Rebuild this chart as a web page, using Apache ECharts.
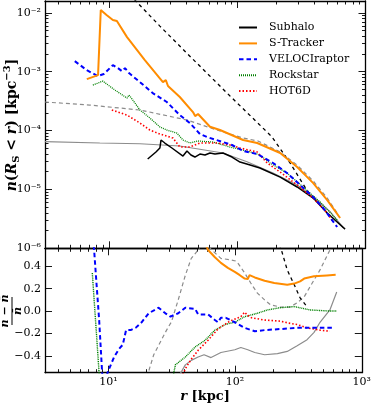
<!DOCTYPE html>
<html><head><meta charset="utf-8">
<script src="https://cdn.jsdelivr.net/npm/echarts@6/dist/echarts.min.js"></script>
<style>html,body{margin:0;padding:0;background:#fff}#c{width:374px;height:406px}</style>
</head><body><div id="c"></div>
<script>
// ---------- data ----------
const subhaloR = [20.0,23.2,24.9,25.4,27.2,30.9,37.7,40.5,43.5,46.7,51.1,56.0,61.2,67.0,77.3,90.9,105,126,150,216,293,391,503,693];
const subhaloN = [3.28e-5,4.32e-5,5.05e-5,6.9e-5,6.14e-5,5.05e-5,3.69e-5,4.49e-5,3.84e-5,3.55e-5,3.99e-5,3.84e-5,4.15e-5,3.99e-5,4.15e-5,3.55e-5,2.92e-5,2.59e-5,2.31e-5,1.62e-5,1.10e-5,7.14e-6,3.97e-6,2.12e-6];

const strackR = [6.70,8.20,8.61,8.75,9.55,10.7,11.5,13.8,19.0,26.3,27.7,28.8,35.6,45.1,46.9,49.4,61.2,73.3,111,143,216,293,391,503,634];
const strackN = [7.48e-4,8.75e-4,1.11e-2,1.13e-2,9.14e-3,7.52e-3,7.23e-3,3.86e-3,1.57e-3,6.65e-4,7.2e-4,5.7e-4,3.71e-4,2.06e-4,1.76e-4,1.91e-4,1.16e-4,1.02e-4,6.9e-5,6.14e-5,4.15e-5,2.40e-5,1.28e-5,6.6e-6,3.27e-6];

const veloR = [5.40,6.70,8.17,9.09,10.7,11.7,12.6,13.3,14.3,17.4,21.9,28.2,35.6,42.7,51.1,58.0,77.3,90.9,111,143,190,244,309,390,468,601];
const veloN = [1.51e-3,1.06e-3,8.41e-4,9.1e-4,1.29e-3,1.15e-3,1.02e-3,1.15e-3,9.46e-4,6.65e-4,4.33e-4,3.05e-4,1.83e-4,1.34e-4,8.73e-5,7.76e-5,6.38e-5,5.68e-5,4.49e-5,3.99e-5,2.81e-5,1.90e-5,1.19e-5,7.43e-6,4.83e-6,2.30e-6];

const rockR = [7.47,8.17,8.93,11.1,13.8,14.3,15.3,17.4,20.8,24.9,28.2,33.8,37.7,42.7,49.4,64.6,87.7,119,150,180,244,326,443,601];
const rockN = [5.92e-4,6.39e-4,6.92e-4,4.87e-4,3.56e-4,4.01e-4,3.30e-4,2.23e-4,1.63e-4,1.15e-4,1.02e-4,9.06e-5,6.9e-5,6.14e-5,6.64e-5,6.38e-5,5.25e-5,4.49e-5,3.84e-5,2.81e-5,1.90e-5,1.10e-5,6.11e-6,3.02e-6];

const hotR = [10.5,13.8,17.4,20.8,24.9,31.5,35.6,42.7,51.1,69.3,87.7,105,143,171,216,293,390,503,560];
const hotN = [2.23e-4,1.83e-4,1.34e-4,1.02e-4,8.73e-5,7.46e-5,5.25e-5,5.25e-5,6.14e-5,6.14e-5,5.68e-5,5.05e-5,4.32e-5,2.81e-5,1.97e-5,1.19e-5,7.14e-6,3.97e-6,2.79e-6];

const fitSolidR = [3.16,8.46,17.4,35.6,77.3,119,190,293,391,530,670];
const fitSolidN = [6.46e-5,6.14e-5,5.97e-5,5.46e-5,4.15e-5,2.95e-5,1.90e-5,1.19e-5,7.52e-6,4.18e-6,2.24e-6];

const fitDashR = [3.16,7.06,17.4,40.5,73.3,111,145,216,293,391,503,601];
const fitDashN = [3.05e-4,2.71e-4,2.23e-4,1.51e-4,9.8e-5,7.46e-5,6.64e-5,4.32e-5,2.59e-5,1.39e-5,7.14e-6,3.97e-6];

const modelR = [14.5,15.9,24.9,40.3,87.7,186,258,348,390];
const modelN = [0.0208,0.0164,5.94e-3,2.07e-3,3.86e-4,7.85e-5,2.81e-5,9.8e-6,7.14e-6];

// residuals (n - nbar)/nbar
const veloResR = [7.47,7.72,8.02,8.46,8.93,9.09,10.1,11.1,12.1,13.0,13.8,15.0,16.4,18.3,20.8,24.9,28.2,30.9,33.8,35.6,40.5,48.4,51.1,61.2,69.3,73.3,77.3,84.5,99.5,119,143,171,309,612];
const veloRes  = [0.72,0.545,0.28,-0.08,-0.55,-0.66,-0.52,-0.41,-0.34,-0.30,-0.17,-0.17,-0.15,-0.10,-0.02,0.03,-0.02,-0.05,-0.03,-0.02,0.03,0.02,-0.03,-0.03,-0.08,-0.10,-0.06,-0.06,-0.10,-0.15,-0.18,-0.17,-0.15,-0.15];

const rockResR = [7.47,7.72,8.02,8.31,8.61,32.6,33.8,40.5,48.4,58.0,69.3,83.2,99.5,119,150,180,227,293,390,560,634];
const rockRes  = [0.34,0.10,-0.17,-0.43,-0.70,-0.57,-0.48,-0.41,-0.32,-0.26,-0.17,-0.12,-0.10,-0.05,-0.02,0.01,0.03,0.04,0.01,0.00,0.00];

const hotResR = [10.5,37.7,41.2,45.1,51.1,61.2,73.3,90.9,111,119,126,135,171,227,272,309,370,468,560];
const hotRes  = [-0.88,-0.59,-0.50,-0.43,-0.35,-0.26,-0.16,-0.09,-0.05,-0.01,-0.04,-0.06,-0.08,-0.09,-0.11,-0.12,-0.15,-0.17,-0.18];

const strackResR = [46.9,61.2,69.3,77.3,87.7,99.5,109,119,126,130,143,171,204,258,293,326,351,420,530,622];
const strackRes  = [0.86,0.545,0.48,0.43,0.385,0.35,0.32,0.29,0.285,0.32,0.30,0.27,0.25,0.235,0.245,0.265,0.29,0.31,0.318,0.323];

const fitSolidResR = [35.6,40.5,45.1,51.1,56.9,64.6,77.3,99.5,111,126,143,171,216,258,309,370,420,468,560,634];
const fitSolidRes  = [-0.59,-0.48,-0.44,-0.41,-0.39,-0.415,-0.37,-0.345,-0.325,-0.345,-0.37,-0.39,-0.38,-0.36,-0.31,-0.255,-0.19,-0.10,0.01,0.17];

const fitDashResR = [19.4,22.8,26.3,28.8,31.5,35.6,40.5,45.1,51.1,56.9,63.4,69.3,77.3,92.5,101,105,119,133,150,171,190,227,272,309,351,390,468,560,601];
const fitDashRes  = [-0.65,-0.39,-0.255,-0.17,-0.095,0.10,0.32,0.47,0.545,0.65,0.56,0.52,0.47,0.456,0.447,0.43,0.34,0.25,0.16,0.10,0.056,0.036,0.036,0.074,0.127,0.216,0.367,0.545,0.634];

const modelResR = [212,232,258,293,326,370];
const modelRes  = [0.65,0.545,0.367,0.234,0.118,0.038];

// ---------- ticks & labels ----------
const xMajorTicks = [10,100,1000];
const xTickLabels = ['10\u00B9','10\u00B2','10\u00B3'];
const xMinorTicks = [4,5,6,7,8,9,20,30,40,50,60,70,80,90,200,300,400,500,600,700,800,900];
const yTopMajorTicks = [1e-6,1e-5,1e-4,1e-3,1e-2];
const yTopTickLabels = ['10\u207B\u2076','10\u207B\u2075','10\u207B\u2074','10\u207B\u00B3','10\u207B\u00B2'];
const yTopMinorTicks = [2e-6,3e-6,4e-6,5e-6,6e-6,7e-6,8e-6,9e-6,2e-5,3e-5,4e-5,5e-5,6e-5,7e-5,8e-5,9e-5,2e-4,3e-4,4e-4,5e-4,6e-4,7e-4,8e-4,9e-4,2e-3,3e-3,4e-3,5e-3,6e-3,7e-3,8e-3,9e-3];
const yBotTicks = [-0.4,-0.2,0,0.2,0.4];
const yBotTickLabels = ['\u22120.4','\u22120.2','0.0','0.2','0.4'];

const XMIN = 3.1623, XMAX = 1000, YMIN = 1e-6, YMAX = 0.01585, RMIN = -0.55, RMAX = 0.56;
const FONT = 'DejaVu Serif';

function lookup(ticks, labels) {
  return v => { let best = 0, bd = Infinity; ticks.forEach((t,i)=>{const d=Math.abs(Math.log(Math.abs(v)+1e-12)-Math.log(Math.abs(t)+1e-12))+Math.abs(v-t); if(d<bd){bd=d;best=i;}}); return labels[best]; };
}
function axisBase(type, grid, pos, min, max, ticks, len, labels, showLine) {
  return {
    type, gridIndex: grid, position: pos, min, max,
    axisLine: {show: showLine, onZero: false, lineStyle: {color: '#000', width: 1.3}},
    axisTick: {show: true, inside: true, length: len, customValues: ticks, lineStyle: {color: '#000', width: 0.9}},
    axisLabel: labels ? {show: true, customValues: ticks, formatter: lookup(ticks, labels), color: '#000', fontFamily: FONT, fontSize: 11, margin: 4} : {show: false},
    splitLine: {show: false}, minorTick: {show: false}, minorSplitLine: {show: false}
  };
}
const zip = (xs, ys) => xs.map((x, i) => [x, ys[i]]);
function line(name, xs, ys, xi, yi, color, width, dash, z) {
  return {type: 'line', name, data: zip(xs, ys), xAxisIndex: xi, yAxisIndex: yi, symbol: 'none', showSymbol: false,
    animation: false, z, silent: true, lineStyle: {color, width, type: dash || 'solid'}, itemStyle: {color}};
}
const GRAY = '#8c8c8c', ORANGE = '#ff8c00';

const chart = echarts.init(document.getElementById('c'), null, {renderer: 'canvas'});
chart.setOption({
  animation: false,
  backgroundColor: '#fff',
  grid: [
    {left: 45, right: 8.5, top: 1, height: 247.3},
    {left: 45, right: 8.5, top: 248.3, height: 124.4}
  ],
  xAxis: [
    axisBase('log', 0, 'bottom', XMIN, XMAX, xMajorTicks, 7, null, true),
    axisBase('log', 0, 'top', XMIN, XMAX, xMajorTicks, 7, null, true),
    axisBase('log', 0, 'bottom', XMIN, XMAX, xMinorTicks, 3.5, null, false),
    axisBase('log', 0, 'top', XMIN, XMAX, xMinorTicks, 3.5, null, false),
    axisBase('log', 1, 'bottom', XMIN, XMAX, xMajorTicks, 7, xTickLabels, true),
    axisBase('log', 1, 'top', XMIN, XMAX, xMajorTicks, 7, null, true),
    axisBase('log', 1, 'bottom', XMIN, XMAX, xMinorTicks, 3.5, null, false),
    axisBase('log', 1, 'top', XMIN, XMAX, xMinorTicks, 3.5, null, false)
  ],
  yAxis: [
    axisBase('log', 0, 'left', YMIN, YMAX, yTopMajorTicks, 7, yTopTickLabels, true),
    axisBase('log', 0, 'right', YMIN, YMAX, yTopMajorTicks, 7, null, true),
    axisBase('log', 0, 'left', YMIN, YMAX, yTopMinorTicks, 3.5, null, false),
    axisBase('log', 0, 'right', YMIN, YMAX, yTopMinorTicks, 3.5, null, false),
    axisBase('value', 1, 'left', RMIN, RMAX, yBotTicks, 7, yBotTickLabels, true),
    axisBase('value', 1, 'right', RMIN, RMAX, yBotTicks, 7, null, true)
  ],
  legend: {
    data: ['Subhalo', 'S-Tracker', 'VELOCIraptor', 'Rockstar', 'HOT6D'],
    orient: 'vertical', left: 238, top: 22, itemWidth: 18, itemHeight: 12, itemGap: 4.9, padding: 0,
    selectedMode: false,
    itemStyle: {opacity: 0, borderWidth: 0},
    textStyle: {fontFamily: FONT, fontSize: 11, color: '#000', padding: [0, 0, 0, 7]}
  },
  series: [
    line('fitSolid', fitSolidR, fitSolidN, 0, 0, GRAY, 1.2, 'solid', 1),
    line('fitDash', fitDashR, fitDashN, 0, 0, GRAY, 1.2, [4, 3], 1),
    line('model', modelR, modelN, 0, 0, '#000', 1.3, [3.5, 3.5], 2),
    line('Subhalo', subhaloR, subhaloN, 0, 0, '#000', 1.5, 'solid', 3),
    line('Rockstar', rockR, rockN, 0, 0, '#008000', 1.3, [1, 1], 4),
    line('HOT6D', hotR, hotN, 0, 0, '#ff0000', 1.6, [1.5, 2], 4),
    line('VELOCIraptor', veloR, veloN, 0, 0, '#0000ff', 2, [4.5, 3], 5),
    line('S-Tracker', strackR, strackN, 0, 0, ORANGE, 2, 'solid', 6),

    line('fitSolid res', fitSolidResR, fitSolidRes, 4, 4, GRAY, 1.2, 'solid', 1),
    line('fitDash res', fitDashResR, fitDashRes, 4, 4, GRAY, 1.2, [4, 3], 1),
    line('model res', modelResR, modelRes, 4, 4, '#000', 1.3, [3.5, 3.5], 2),
    line('Rockstar res', rockResR, rockRes, 4, 4, '#008000', 1.4, [1, 0.8], 4),
    line('HOT6D res', hotResR, hotRes, 4, 4, '#ff0000', 1.6, [1.5, 2], 4),
    line('VELOCIraptor res', veloResR, veloRes, 4, 4, '#0000ff', 2, [4.5, 3], 5),
    line('S-Tracker res', strackResR, strackRes, 4, 4, ORANGE, 2, 'solid', 6)
  ],
  graphic: [
    {type: 'text', x: 12, y: 125, rotation: Math.PI / 2, silent: true,
     style: {text: '{i|n}{r|(}{i|R}{sub|S}{r| < }{i|r}{r|) [kpc}{sup|\u22123}{r|]}', align: 'center', verticalAlign: 'middle',
       fill: '#000', fontFamily: FONT, fontSize: 14, fontWeight: 'bold',
       rich: {
         i: {fontFamily: FONT, fontSize: 14, fontWeight: 'bold', fontStyle: 'italic', lineHeight: 19},
         r: {fontFamily: FONT, fontSize: 14, fontWeight: 'bold', lineHeight: 19},
         sub: {fontFamily: FONT, fontSize: 10, fontWeight: 'bold', lineHeight: 11, verticalAlign: 'bottom'},
         sup: {fontFamily: FONT, fontSize: 10, fontWeight: 'bold', lineHeight: 11, verticalAlign: 'top'}
       }}},
    {type: 'group', x: 12, y: 311, rotation: Math.PI / 2, silent: true, children: [
      {type: 'text', x: 0, y: -6.5, style: {text: 'n \u2212 n\u0304', align: 'center', verticalAlign: 'middle', fill: '#000',
        fontFamily: FONT, fontSize: 11, fontStyle: 'italic', fontWeight: 'bold'}},
      {type: 'line', shape: {x1: -14, y1: 0, x2: 14, y2: 0}, style: {stroke: '#000', lineWidth: 1}},
      {type: 'text', x: 0, y: 6.5, style: {text: 'n\u0304', align: 'center', verticalAlign: 'middle', fill: '#000',
        fontFamily: FONT, fontSize: 11, fontStyle: 'italic', fontWeight: 'bold'}}
    ]},
    {type: 'text', x: 205, y: 397, silent: true,
     style: {text: '{i|r}{r| [kpc]}', align: 'center', verticalAlign: 'middle', fill: '#000',
       rich: {
         i: {fontFamily: FONT, fontSize: 13, fontWeight: 'bold', fontStyle: 'italic'},
         r: {fontFamily: FONT, fontSize: 13, fontWeight: 'bold'}
       }}}
  ]
});
</script></body></html>
